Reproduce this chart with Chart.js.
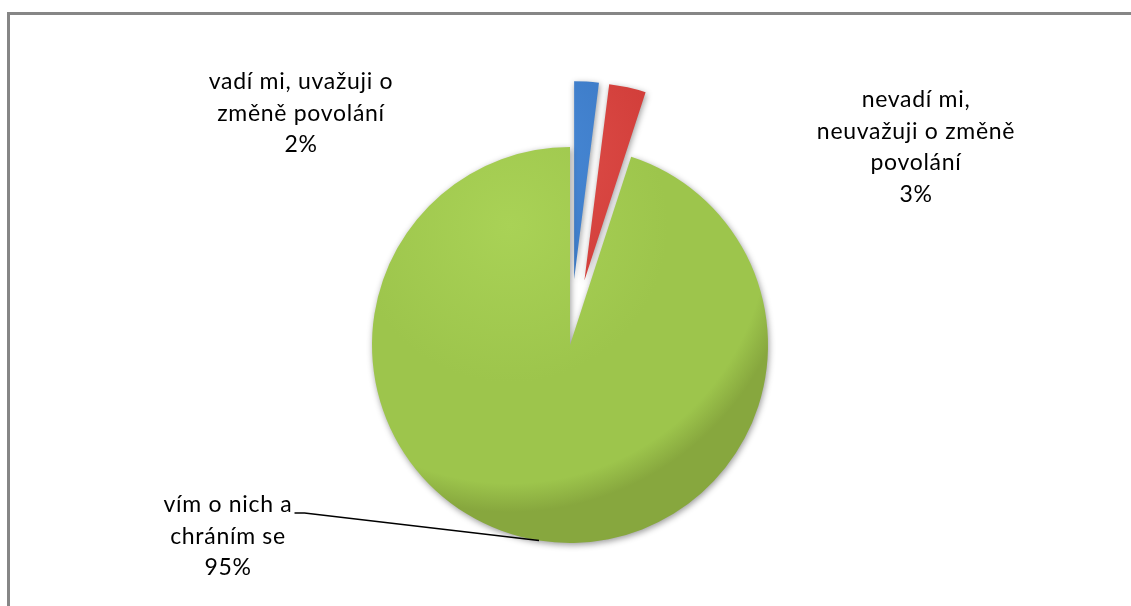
<!DOCTYPE html>
<html>
<head>
<meta charset="utf-8">
<script src="https://cdn.jsdelivr.net/npm/chart.js@4"></script>
<style>
  html, body { margin: 0; padding: 0; background: #fff; }
  #wrap { position: relative; width: 1131px; height: 606px; overflow: hidden; }
  #frame { position: absolute; left: 7px; top: 12px; width: 1200px; height: 700px;
           border-top: 3px solid #868686; border-left: 3px solid #868686; }
  #pie { position: absolute; left: 0; top: 0; }
</style>
</head>
<body>
<div id="wrap">
  <div id="frame"></div>
  <canvas id="pie" width="1131" height="606"></canvas>
</div>
<script>
// 데이터
const categories = [
  ['vadí mi, uvažuji o', 'změně povolání'],
  ['nevadí mi,', 'neuvažuji o změně', 'povolání'],
  ['vím o nich a', 'chráním se']
];
const shares = [2, 3, 95];
const percentLabels = ['2%', '3%', '95%'];

// 색상 (밝은 색, 기본 색, 어두운 테두리)
const palette = [
  ['#4a8bd8', '#3a78c4', '#2b5f9f'],
  ['#e0504b', '#d03c38', '#a92c29'],
  ['#a9d256', '#9dc54c', '#87a73e']
];

// 라벨 배치 (파이 중심 기준)
const labelLayout = [
  { dx: -269, dy: -263, leader: false },
  { dx: 346, dy: -245, leader: false },
  { dx: -342, dy: 160, leader: true }
];

const PIE_RADIUS = 198;
const LINE_H = 31.5;
const FONT = '23px Lato';

// 분리된 조각을 그리는 컨트롤러
class ExplodedPieController extends Chart.PieController {
  draw() {
    const ctx = this.chart.ctx;
    const explode = this.getDataset().explode || [];
    this._cachedMeta.data.forEach((arc, i) => {
      const d = explode[i] || 0;
      const mid = (arc.startAngle + arc.endAngle) / 2;
      ctx.save();
      ctx.translate(Math.cos(mid) * d, Math.sin(mid) * d);
      arc.draw(ctx, this.chart.chartArea);
      ctx.restore();
    });
  }
}
ExplodedPieController.id = 'explodedPie';
Chart.register(ExplodedPieController);

// 슬라이스 그라디언트
function sliceFill(c) {
  const a = c.chart.chartArea;
  const p = palette[c.dataIndex];
  if (!a) return p[1];
  const cx = (a.left + a.right) / 2;
  const cy = (a.top + a.bottom) / 2;
  const g = c.chart.ctx.createRadialGradient(cx - 60, cy - 120, 0, cx - 60, cy - 120, PIE_RADIUS * 1.45);
  g.addColorStop(0, p[0]);
  g.addColorStop(0.55, p[1]);
  g.addColorStop(0.9, p[1]);
  g.addColorStop(1, p[2]);
  return g;
}

// 그림자 플러그인
const shadowPlugin = {
  id: 'sliceShadow',
  beforeDatasetsDraw(chart) {
    const ctx = chart.ctx;
    ctx.save();
    ctx.shadowColor = 'rgba(0,0,0,0.4)';
    ctx.shadowBlur = 6;
    ctx.shadowOffsetX = 1;
    ctx.shadowOffsetY = 2;
  },
  afterDatasetsDraw(chart) {
    chart.ctx.restore();
  }
};

// 라벨 플러그인
const labelPlugin = {
  id: 'sliceLabels',
  afterDraw(chart) {
    const ctx = chart.ctx;
    const arcs = chart.getDatasetMeta(0).data;
    ctx.save();
    ctx.font = FONT;
    ctx.letterSpacing = '0.7px';
    ctx.fillStyle = '#000';
    ctx.textAlign = 'center';
    ctx.textBaseline = 'middle';
    arcs.forEach((arc, i) => {
      const lay = labelLayout[i];
      const lines = categories[i].concat([percentLabels[i]]);
      const x = arc.x + lay.dx;
      const y0 = arc.y + lay.dy;
      lines.forEach((t, k) => ctx.fillText(t, x, y0 + k * LINE_H));

      if (lay.leader) {
        const w = ctx.measureText(lines[0]).width;
        const sx = x + w / 2 + 2;
        const sy = y0 + 8;
        const mid = (arc.startAngle + arc.endAngle) / 2;
        const ex = arc.x + Math.cos(mid) * arc.outerRadius;
        const ey = arc.y + Math.sin(mid) * arc.outerRadius;
        ctx.beginPath();
        ctx.strokeStyle = '#000';
        ctx.lineWidth = 1.5;
        ctx.moveTo(sx, sy);
        ctx.lineTo(sx + 10, sy);
        ctx.lineTo(ex, ey);
        ctx.stroke();
      }
    });
    ctx.restore();
  }
};

const chart = new Chart(document.getElementById('pie'), {
  type: 'explodedPie',
  data: {
    labels: categories,
    datasets: [{
      data: shares,
      backgroundColor: sliceFill,
      borderWidth: 0,
      explode: [66, 66, 0],
      radius: PIE_RADIUS
    }]
  },
  options: {
    responsive: false,
    animation: false,
    layout: { padding: { left: 9, right: 0, top: 84, bottom: 0 } },
    plugins: {
      legend: { display: false },
      tooltip: { enabled: false }
    }
  },
  plugins: [shadowPlugin, labelPlugin]
});
</script>
</body>
</html>
